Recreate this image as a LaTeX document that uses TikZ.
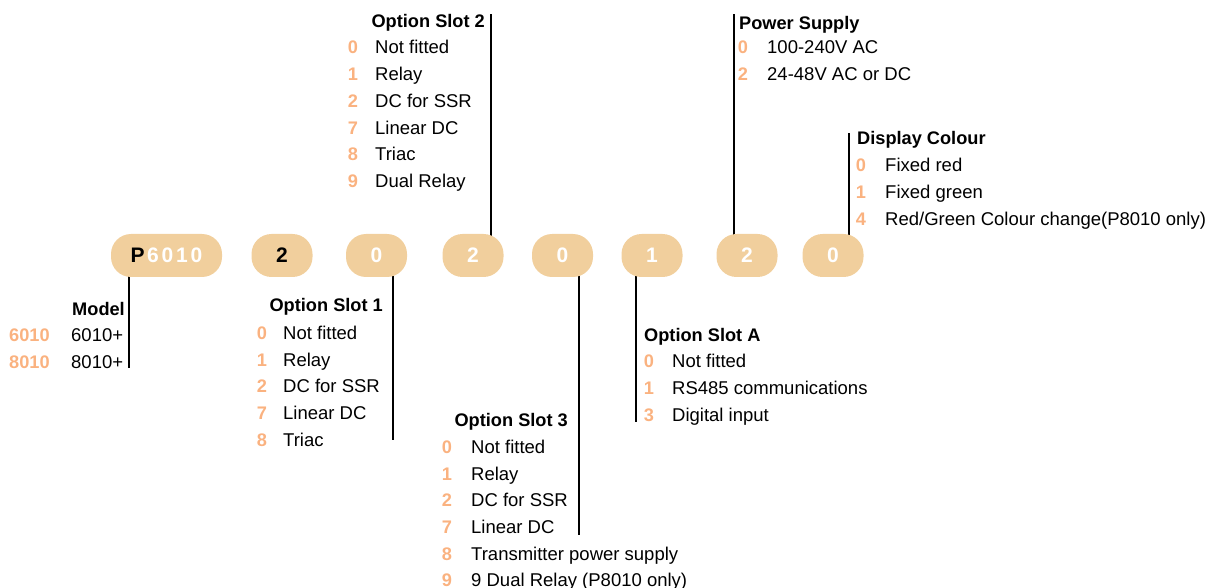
\documentclass[tikz,border=0pt]{standalone}
\usepackage{fontspec}
\setmainfont{Liberation Sans}
\usetikzlibrary{backgrounds}
\definecolor{pill}{RGB}{241,207,157}
\definecolor{codecol}{RGB}{250,178,128}
\tikzset{
  pillbox/.style={fill=pill, rounded corners=20pt, minimum width=61pt, minimum height=43pt,
    inner sep=0pt, font=\fontsize{21}{21}\bfseries, text=white},
  conn/.style={line width=2pt, black},
  ttl/.style={font=\fontsize{18.2}{22}\bfseries, inner sep=0pt},
  item/.style={font=\fontsize{18.5}{22}\selectfont, inner sep=0pt, anchor=base west},
  codeno/.style={font=\fontsize{18.2}{22}\bfseries, text=codecol, inner sep=0pt, anchor=base},
}
\newcommand\optrow[6]{%
  \node[codeno] (#1d) at (#2,#4) {#5};
  \node[item] (#1t) at (#3,#4) {#6};}
\begin{document}
\begin{tikzpicture}[x=1pt,y=-1pt]
\useasboundingbox (0,0) rectangle (1216,588);

% pills
\node[pillbox, minimum width=111pt] (p1) at (166.5,255.5)
  {{\color{black}P}\kern2.5pt6\kern2.8pt0\kern2.8pt1\kern2.8pt0};
\node[pillbox, text=black] (p2) at (282,255.5) {2};
\node[pillbox] (p3) at (376.5,255.5) {0};
\node[pillbox] (p4) at (473,255.5) {2};
\node[pillbox] (p5) at (562.5,255.5) {0};
\node[pillbox] (p6) at (652,255.5) {1};
\node[pillbox] (p7) at (747,255.5) {2};
\node[pillbox] (p8) at (833,255.5) {0};

% line ends
\coordinate (mEnd) at (129,368);
\coordinate (s1End) at (393,440);
\coordinate (s2End) at (491,14);
\coordinate (s3End) at (579,535);
\coordinate (sAEnd) at (636,422);
\coordinate (psEnd) at (734,14);
\coordinate (dcEnd) at (849,133);

\begin{scope}[on background layer]
\draw[conn] (p1.center -| mEnd) -- (mEnd);
\draw[conn] (p3.center -| s1End) -- (s1End);
\draw[conn] (p4.center -| s2End) -- (s2End);
\draw[conn] (p5.center -| s3End) -- (s3End);
\draw[conn] (p6.center -| sAEnd) -- (sAEnd);
\draw[conn] (p7.center -| psEnd) -- (psEnd);
\draw[conn] (p8.center -| dcEnd) -- (dcEnd);
\end{scope}

% Model
\node[ttl, anchor=base east] (mT) at (125,315) {Model};
\node[codeno, anchor=base west] (m1d) at (9,341) {6010};
\node[item] (m1t) at (71,341) {6010+};
\node[codeno, anchor=base west] (m2d) at (9,368) {8010};
\node[item] (m2t) at (71,368) {8010+};

% Option Slot 1
\node[ttl, anchor=base east] (s1T) at (383,312) {Option Slot 1};
\optrow{s1a}{262}{283}{339}{0}{Not fitted}
\optrow{s1b}{262}{283}{366}{1}{Relay}
\optrow{s1c}{262}{283}{392}{2}{DC for SSR}
\optrow{s1e}{262}{283}{419}{7}{Linear DC}
\optrow{s1f}{262}{283}{446}{8}{Triac}

% Option Slot 2
\node[ttl, anchor=base east] (s2T) at (485,28) {Option Slot 2};
\optrow{s2a}{353}{375}{54}{0}{Not fitted}
\optrow{s2b}{353}{375}{81}{1}{Relay}
\optrow{s2c}{353}{375}{108}{2}{DC for SSR}
\optrow{s2e}{353}{375}{135}{7}{Linear DC}
\optrow{s2f}{353}{375}{161}{8}{Triac}
\optrow{s2g}{353}{375}{188}{9}{Dual Relay}

% Option Slot 3
\node[ttl, anchor=base east] (s3T) at (568,426) {Option Slot 3};
\optrow{s3a}{447}{471}{453}{0}{Not fitted}
\optrow{s3b}{447}{471}{480}{1}{Relay}
\optrow{s3c}{447}{471}{506}{2}{DC for SSR}
\optrow{s3e}{447}{471}{533}{7}{Linear DC}
\optrow{s3f}{447}{471}{560}{8}{Transmitter power supply}
\optrow{s3g}{447}{471}{586}{9}{9 Dual Relay (P8010 only)}

% Option Slot A
\node[ttl, anchor=base west] (sAT) at (644,341) {Option Slot A};
\optrow{sAa}{649}{672}{367}{0}{Not fitted}
\optrow{sAb}{649}{672}{394}{1}{RS485 communications}
\optrow{sAc}{649}{672}{421}{3}{Digital input}

% Power Supply
\node[ttl, anchor=base west] (psT) at (739,30) {Power Supply};
\optrow{psa}{743}{767}{54}{0}{100-240V AC}
\optrow{psb}{743}{767}{81}{2}{24-48V AC or DC}

% Display Colour
\node[ttl, anchor=base west] (dcT) at (857,145) {Display Colour};
\optrow{dca}{861}{885}{172}{0}{Fixed red}
\optrow{dcb}{861}{885}{199}{1}{Fixed green}
\optrow{dcc}{861}{885}{226}{4}{Red/Green Colour change(P8010 only)}
\end{tikzpicture}
\end{document}
